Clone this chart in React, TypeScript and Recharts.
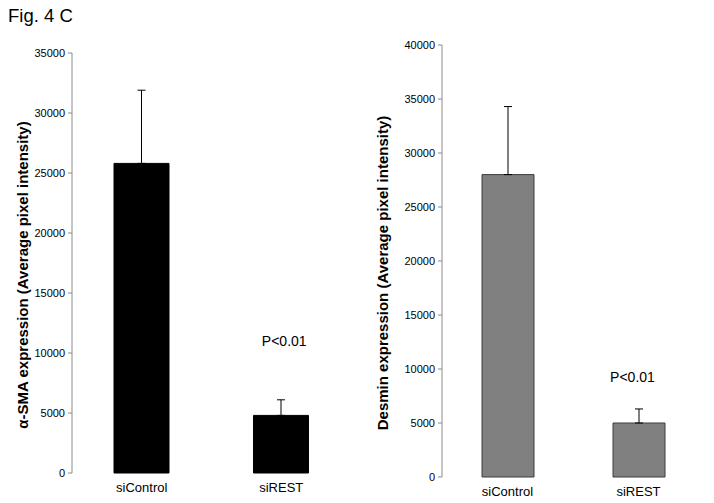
import React from 'react';
import { BarChart, Bar, XAxis, YAxis, ErrorBar, ReferenceDot } from 'recharts';

const categories = ['siControl', 'siREST'];
const smaMeans = [25800, 4800];
const smaErrors = [6100, 1300];
const desminMeans = [28000, 5000];
const desminErrors = [6300, 1300];
const smaTicks = [0, 5000, 10000, 15000, 20000, 25000, 30000, 35000];
const desminTicks = [0, 5000, 10000, 15000, 20000, 25000, 30000, 35000, 40000];
const pLabel = 'P<0.01';

const smaData = categories.map((c, i) => ({ name: c, value: smaMeans[i], err: [0, smaErrors[i]] }));
const desminData = categories.map((c, i) => ({ name: c, value: desminMeans[i], err: [0, desminErrors[i]] }));

const FONT = '"Liberation Sans", Arial, sans-serif';
const AXIS = '#8c8c8c';

const makeTitle = (text: string, cx: number) => (props: any) => {
  const vb = props.viewBox || {};
  const cy = vb.y + vb.height / 2 + 12;
  return (
    <text
      x={cx}
      y={cy}
      transform={`rotate(-90, ${cx}, ${cy})`}
      textAnchor="middle"
      dominantBaseline="central"
      fontFamily={FONT}
      fontWeight="bold"
      fontSize={15}
      fill="#000"
    >
      {text}
    </text>
  );
};

interface PanelProps {
  data: any[];
  ticks: number[];
  max: number;
  fill: string;
  stroke: string;
  barSize: number;
  width: number;
  yWidth: number;
  top: number;
  right: number;
  xHeight: number;
  title: string;
  titleX: number;
  pY: number;
  pDx: number;
}

const Panel = (p: PanelProps) => (
  <BarChart
    width={p.width}
    height={503}
    data={p.data}
    margin={{ top: p.top, right: p.right, bottom: 0, left: 0 }}
    style={{ fontFamily: FONT }}
  >
    <XAxis
      xAxisId="edge"
      type="number"
      domain={[0, 2]}
      ticks={[0, 1, 2]}
      height={0}
      tickFormatter={() => ''}
      stroke={AXIS}
      tickSize={5}
      allowDataOverflow
    />
    <XAxis
      dataKey="name"
      xAxisId="cat"
      height={p.xHeight}
      axisLine={false}
      tickLine={false}
      tick={{ fill: '#000', fontSize: 13, fontFamily: FONT }}
      tickMargin={4}
    />
    <YAxis
      width={p.yWidth}
      domain={[0, p.max]}
      ticks={p.ticks}
      interval={0}
      stroke={AXIS}
      tickSize={4}
      tickMargin={3}
      tick={{ fill: '#000', fontSize: 11, fontFamily: FONT }}
      label={{ content: makeTitle(p.title, p.titleX) }}
    />
    <Bar
      dataKey="value"
      xAxisId="cat"
      fill={p.fill}
      stroke={p.stroke}
      strokeWidth={1}
      barSize={p.barSize}
      isAnimationActive={false}
    >
      <ErrorBar dataKey="err" direction="y" width={4} stroke="#000" strokeWidth={1} isAnimationActive={false} />
    </Bar>
    <ReferenceDot
      xAxisId="cat"
      x="siREST"
      y={p.pY}
      r={0}
      fill="none"
      stroke="none"
      label={{ value: pLabel, position: 'center', fontSize: 14, fill: '#000', fontFamily: FONT, dx: p.pDx }}
    />
  </BarChart>
);

export default function App() {
  return (
    <div style={{ position: 'absolute', left: 0, top: 0, width: 714, height: 503, background: '#fff', overflow: 'hidden' }}>
      <div style={{ position: 'absolute', left: 8, top: 5, fontFamily: FONT, fontSize: 18.5, color: '#000' }}>Fig. 4 C</div>
      <div style={{ position: 'absolute', left: 0, top: 0 }}>
        <Panel
          data={smaData}
          ticks={smaTicks}
          max={35000}
          fill="#000"
          stroke="#000"
          barSize={55}
          width={360}
          yWidth={72}
          top={53}
          right={9}
          xHeight={30}
          title="α-SMA expression (Average pixel intensity)"
          titleX={22}
          pY={11000}
          pDx={3}
        />
      </div>
      <div style={{ position: 'absolute', left: 360, top: 0 }}>
        <Panel
          data={desminData}
          ticks={desminTicks}
          max={40000}
          fill="#808080"
          stroke="#3c3c3c"
          barSize={52}
          width={354}
          yWidth={82}
          top={45}
          right={10}
          xHeight={26}
          title="Desmin expression (Average pixel intensity)"
          titleX={22}
          pY={9300}
          pDx={-6}
        />
      </div>
    </div>
  );
}
